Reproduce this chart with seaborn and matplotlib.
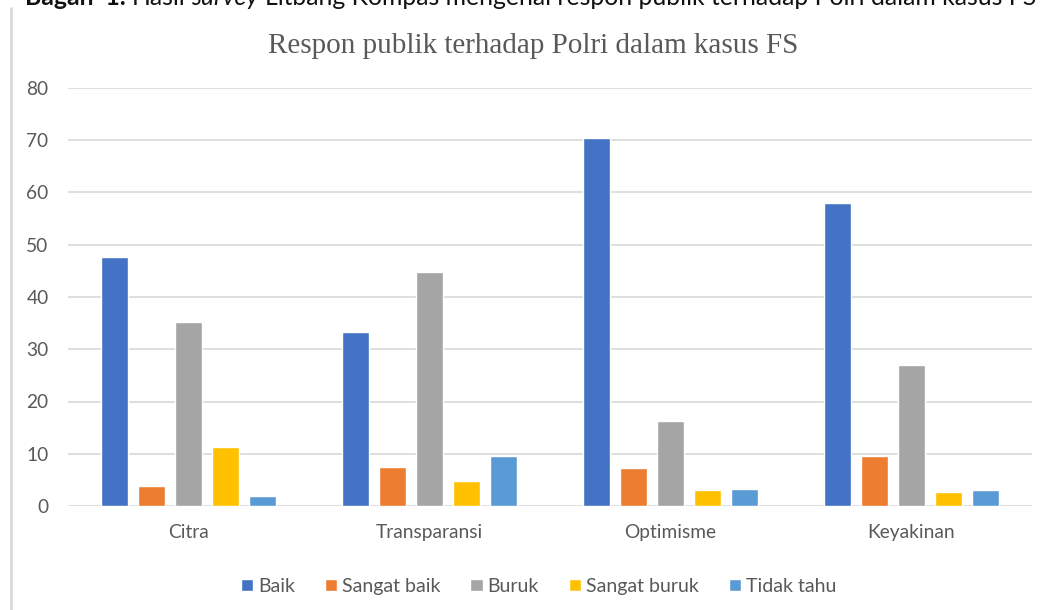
import numpy as np
import pandas as pd
import matplotlib.pyplot as plt
import seaborn as sns
from matplotlib.lines import Line2D

# values (percent)
categories = ["Citra", "Transparansi", "Optimisme", "Keyakinan"]
responses = ["Baik", "Sangat baik", "Buruk", "Sangat buruk", "Tidak tahu"]
baik = [47.6, 33.3, 70.4, 57.9]
sangat_baik = [3.9, 7.4, 7.2, 9.6]
buruk = [35.2, 44.8, 16.3, 27.0]
sangat_buruk = [11.2, 4.7, 3.0, 2.7]
tidak_tahu = [2.0, 9.6, 3.2, 3.0]
colors = ["#4472C4", "#ED7D31", "#A5A5A5", "#FFC000", "#5B9BD5"]

series = [baik, sangat_baik, buruk, sangat_buruk, tidak_tahu]
rows = []
for resp, vals in zip(responses, series):
    for cat, v in zip(categories, vals):
        rows.append({"Kategori": cat, "Respon": resp, "Nilai": v})
df = pd.DataFrame(rows)

sns.set_style("white")
plt.rcParams["font.family"] = ["Lato", "DejaVu Sans"]

W, H = 1043, 610
fig = plt.figure(figsize=(W / 100, H / 100), dpi=100)
ax = fig.add_axes([68 / W, 1 - 506 / H, (1032 - 68) / W, (506 - 88) / H])

sns.barplot(data=df, x="Kategori", y="Nilai", hue="Respon", order=categories,
            hue_order=responses, palette=colors, width=0.7675, gap=0.245,
            saturation=1, ax=ax)

ax.set_ylim(0, 80)
ax.set_xlim(-0.5, 3.5)
ax.set_yticks(range(0, 81, 10))
ax.yaxis.grid(True, color="#d9d9d9", linewidth=1.2)
ax.set_axisbelow(True)
for s in ax.spines.values():
    s.set_visible(False)
ax.set_xlabel("")
ax.set_ylabel("")
ax.tick_params(axis="y", length=0, pad=14, labelsize=13.8, labelcolor="#595959")
ax.tick_params(axis="x", length=0, pad=13, labelsize=13.8, labelcolor="#595959")

handles, labels = ax.get_legend_handles_labels()
ax.get_legend().remove()
fig.legend(handles, labels, loc="center", bbox_to_anchor=(538.5 / W, 1 - 586.5 / H),
           ncol=5, frameon=False, fontsize=14, labelcolor="#595959",
           handlelength=0.62, handleheight=0.62, handletextpad=0.25,
           columnspacing=1.55)

fig.text(533 / W, 1 - 46 / H, "Respon publik terhadap Polri dalam kasus FS",
         ha="center", va="center", fontsize=21, color="#595959",
         family="Liberation Serif")

# outer chart border, only the left edge is in view
fig.add_artist(Line2D([11 / W, 11 / W], [0, 1 - 8 / H], transform=fig.transFigure,
                      color="#d9d9d9", linewidth=2))

# caption above the chart, cut off by the top edge as in the source
fig.canvas.draw()
renderer = fig.canvas.get_renderer()
parts = [("Bagan  1.", "bold", "normal"), ("Hasil", "normal", "normal"),
         ("survey", "normal", "italic"),
         ("Litbang Kompas mengenai respon publik terhadap Polri dalam kasus FS",
          "normal", "normal")]
x = 25 / W
for txt, weight, style in parts:
    t = fig.text(x, 1 - 5 / H, txt, fontsize=17.8, fontweight=weight,
                 fontstyle=style, va="baseline", ha="left", color="#111111")
    bb = t.get_window_extent(renderer)
    x = (bb.x1 + 6) / W

fig.savefig("out.png", dpi=100)
